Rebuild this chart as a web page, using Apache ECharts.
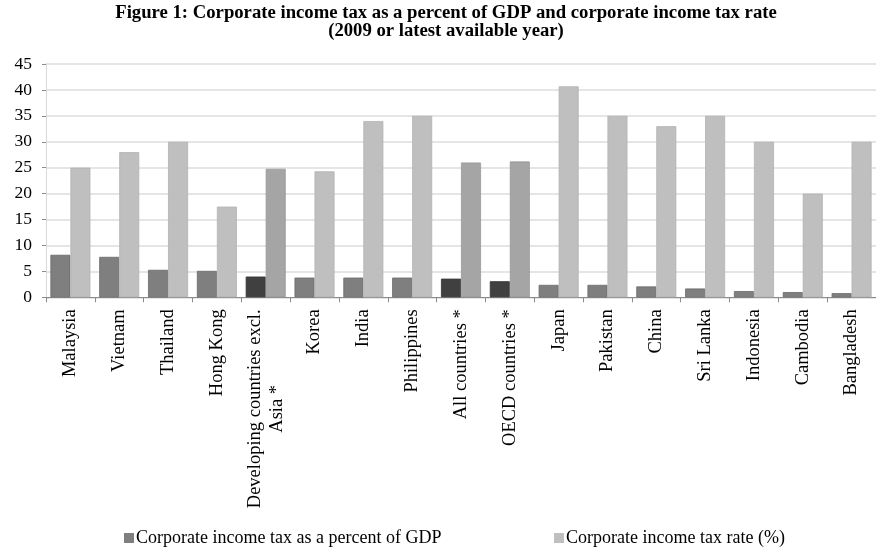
<!DOCTYPE html>
<html>
<head>
<meta charset="utf-8">
<script src="https://cdn.jsdelivr.net/npm/echarts@6/dist/echarts.min.js"></script>
<style>
  html, body { margin: 0; padding: 0; background: #fff; }
  #chart { width: 876px; height: 547px; }
</style>
</head>
<body>
<div id="chart"></div>
<script>
// Countries and country groups, ordered by corporate tax revenue share of GDP
const categories = [
  'Malaysia', 'Vietnam', 'Thailand', 'Hong Kong',
  'Developing countries excl.\nAsia *', 'Korea', 'India', 'Philippines',
  'All countries *', 'OECD countries *', 'Japan', 'Pakistan', 'China',
  'Sri Lanka', 'Indonesia', 'Cambodia', 'Bangladesh'
];
// Corporate income tax as a percent of GDP
const gdpShare = [8.2, 7.8, 5.3, 5.1, 4.0, 3.8, 3.8, 3.8, 3.6, 3.1, 2.4, 2.4, 2.1, 1.7, 1.2, 1.0, 0.8];
// Corporate income tax rate (%)
const taxRate = [25, 28, 30, 17.5, 24.8, 24.3, 34, 35, 26, 26.2, 40.7, 35, 33, 35, 30, 20, 30];
// Group averages (starred) are drawn in darker shades
const groupNames = ['Developing countries excl.\nAsia *', 'All countries *', 'OECD countries *'];
// Value axis ticks
const yTicks = [0, 5, 10, 15, 20, 25, 30, 35, 40, 45];

const seriesNames = ['Corporate income tax as a percent of GDP', 'Corporate income tax rate (%)'];
const serif = "'Liberation Serif', 'Times New Roman', serif";
const labelSize = 18.5;

const shade = {
  gdp: { normal: '#7f7f7f', group: '#404040', edge: '#6a6a6a', groupEdge: '#333333' },
  rate: { normal: '#bfbfbf', group: '#a5a5a5', edge: '#b2b2b2', groupEdge: '#989898' }
};

function barData(values, palette) {
  return values.map((v, i) => {
    const isGroup = groupNames.includes(categories[i]);
    return {
      value: v,
      itemStyle: {
        color: isGroup ? palette.group : palette.normal,
        borderColor: isGroup ? palette.groupEdge : palette.edge,
        borderWidth: 0.8
      }
    };
  });
}

// Width of the longest line of a multi-line label, so shorter lines can be centred under it
function lineWidth(text) {
  const ctx = document.createElement('canvas').getContext('2d');
  ctx.font = labelSize + 'px ' + serif;
  return Math.ceil(ctx.measureText(text).width);
}

const chart = echarts.init(document.getElementById('chart'), null, { renderer: 'canvas' });

chart.setOption({
  animation: false,
  backgroundColor: '#ffffff',
  title: {
    text: 'Figure 1: Corporate income tax as a percent of GDP and corporate income tax rate\n(2009 or latest available year)',
    left: 441,
    textAlign: 'center',
    top: -1,
    textStyle: {
      fontFamily: serif,
      fontWeight: 'bold',
      fontSize: 18.7,
      lineHeight: 18,
      color: '#000'
    }
  },
  legend: [
    {
      data: [seriesNames[0]],
      left: 119,
      top: 524,
      itemWidth: 10,
      itemHeight: 10,
      itemGap: 0,
      textStyle: { fontFamily: serif, fontSize: 18, color: '#000', padding: [0, 0, 0, -3] },
      icon: 'rect'
    },
    {
      data: [seriesNames[1]],
      left: 549,
      top: 524,
      itemWidth: 10,
      itemHeight: 10,
      itemGap: 0,
      textStyle: { fontFamily: serif, fontSize: 18, color: '#000', padding: [0, 0, 0, -3] },
      icon: 'rect'
    }
  ],
  grid: {
    left: 46,
    top: 64,
    width: 840,
    height: 233.3,
    containLabel: false
  },
  xAxis: {
    type: 'category',
    data: categories,
    boundaryGap: true,
    axisLine: { lineStyle: { color: '#8c8c8c', width: 1 } },
    axisTick: { show: true, interval: 0, length: 5, lineStyle: { color: '#8c8c8c' } },
    axisLabel: {
      interval: 0,
      rotate: 90,
      margin: 12,
      fontFamily: serif,
      fontSize: labelSize,
      color: '#000',
      formatter: function (v) {
        if (v.indexOf('\n') < 0) return v;
        const lines = v.split('\n');
        const w = Math.max.apply(null, lines.map(lineWidth));
        return lines.map(s => '{c' + w + '|' + s + '}').join('\n');
      },
      rich: (function () {
        const rich = {};
        categories.filter(c => c.indexOf('\n') >= 0).forEach(c => {
          const w = Math.max.apply(null, c.split('\n').map(lineWidth));
          rich['c' + w] = { width: w, align: 'center', fontFamily: serif, fontSize: labelSize, color: '#000', lineHeight: 22 };
        });
        return rich;
      })()
    },
    splitLine: { show: false }
  },
  yAxis: {
    type: 'value',
    min: yTicks[0],
    max: yTicks[yTicks.length - 1],
    interval: yTicks[1] - yTicks[0],
    axisLine: { show: true, lineStyle: { color: '#d9d9d9' } },
    axisTick: { show: true, length: 4, lineStyle: { color: '#8c8c8c' } },
    axisLabel: {
      margin: 14,
      fontFamily: serif,
      fontSize: 17.5,
      color: '#000'
    },
    splitLine: { show: true, lineStyle: { color: '#dcdcdc', width: 1.5 } }
  },
  series: [
    {
      name: seriesNames[0],
      type: 'bar',
      barWidth: 20,
      barGap: '0%',
      itemStyle: { color: shade.gdp.normal },
      data: barData(gdpShare, shade.gdp)
    },
    {
      name: seriesNames[1],
      type: 'bar',
      barWidth: 20,
      barGap: '0%',
      itemStyle: { color: shade.rate.normal },
      data: barData(taxRate, shade.rate)
    }
  ]
});
</script>
</body>
</html>
